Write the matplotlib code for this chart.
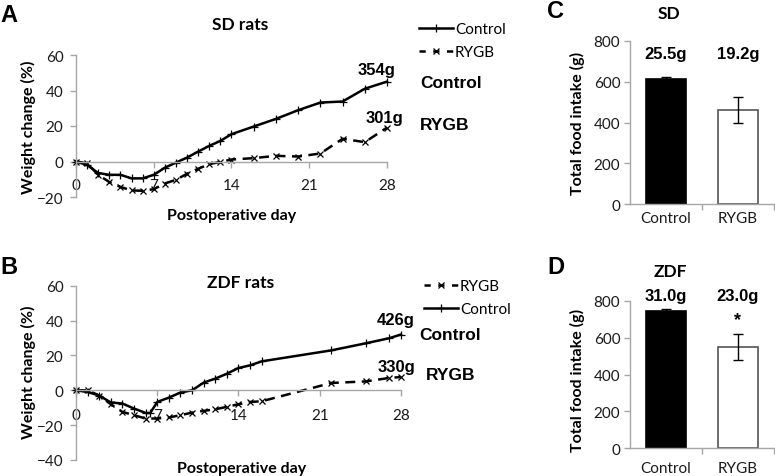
import matplotlib
matplotlib.use("Agg")
import matplotlib.pyplot as plt
from matplotlib.lines import Line2D

# ---------------- data ----------------
sd_days = [0, 1, 2, 3, 4, 5, 6, 7, 8, 9, 10, 11, 12, 13, 14, 16, 18, 20, 22, 24, 26, 28]
sd_control = [0, -2, -6.5, -7.5, -7.5, -9.5, -9.5, -7.5, -3.5, -0.6, 2.2, 5.6, 8.8, 11.6, 15.4,
              19.7, 24, 28.9, 33.2, 33.8, 41, 45]
sd_rygb = [0, -1, -7.5, -11.6, -14.3, -16.3, -16.5, -15.6, -12.4, -10.3, -6.9, -4.1, -1.5, -0.2, 1.1,
           1.9, 3.2, 2.8, 4.5, 12.8, 10.9, 19.1]

zdf_days_control = [0, 1, 2, 3, 4, 5, 6, 6.4, 7, 8, 9, 10, 11, 12, 13, 14, 15, 16, 22, 25, 27, 28]
zdf_control = [0, -1, -3, -7, -7.6, -10.5, -13, -13, -6.7, -4.2, -1.3, 0, 4.4, 6.7, 9.5, 12.8,
               14.3, 16.6, 22.9, 27.0, 29.9, 32]
zdf_days_rygb = [0, 1, 2, 3, 4, 5, 6, 7, 8, 9, 10, 11, 12, 13, 14, 15, 16, 22, 25, 27, 28]
zdf_rygb = [0, 0, -3, -8, -12.4, -14.3, -16.2, -16.2, -15.6, -14.3, -12.8, -11.8, -10.9, -9.5,
            -8, -6.7, -6.3, 4.2, 5.1, 7.1, 7.6]

sd_final_weights = ["354g", "301g"]
zdf_final_weights = ["426g", "330g"]

groups = ["Control", "RYGB"]
sd_intake = [613, 462]
sd_intake_err = [11, 63]
sd_daily = ["25.5g", "19.2g"]
zdf_intake = [745, 552]
zdf_intake_err = [13, 70]
zdf_daily = ["31.0g", "23.0g"]

x_ticks_days = [0, 7, 14, 21, 28]

# ---------------- style ----------------
W, H = 775, 477
fig = plt.figure(figsize=(W / 100, H / 100), dpi=100)
AXC = "#a6a6a6"
TXT = "#1a1a1a"
LAT = ["Lato", "DejaVu Sans"]
ARI = ["Liberation Sans", "DejaVu Sans"]
TICK_FS = 11
LAB_FS = 11.5


def px_axes(x0, x1, ytop, ybot):
    return fig.add_axes([x0 / W, 1 - ybot / H, (x1 - x0) / W, (ybot - ytop) / H])


def ftext(x, y, s, **kw):
    fig.text(x / W, 1 - y / H, s, **kw)


def style_line_axes(ax, ymin, ymax, xpad):
    ax.set_xlim(0, 28)
    ax.set_ylim(ymin, ymax)
    for s in ["top", "right"]:
        ax.spines[s].set_visible(False)
    ax.spines["bottom"].set_position(("data", 0))
    for s in ["left", "bottom"]:
        ax.spines[s].set_color(AXC)
        ax.spines[s].set_linewidth(1.0)
    ax.set_xticks(x_ticks_days)
    ax.set_yticks(range(ymin, ymax + 1, 20))
    ax.tick_params(axis="x", direction="out", length=4, width=1, color=AXC, pad=xpad,
                   labelsize=TICK_FS, labelcolor=TXT)
    ax.tick_params(axis="y", direction="out", length=4, width=1, color=AXC, pad=5,
                   labelsize=TICK_FS, labelcolor=TXT)
    for lab in ax.get_xticklabels() + ax.get_yticklabels():
        lab.set_family(LAT)
    ax.patch.set_alpha(0)


ctrl_kw = dict(color="black", lw=1.8, marker="+", ms=6, mew=0.9, solid_joinstyle="round",
               clip_on=False)
rygb_kw = dict(color="black", lw=1.8, ls=(0, (4, 2.6)), marker="x", ms=4.5, mew=0.9,
               clip_on=False)

hC = Line2D([], [], color="black", lw=1.8, marker="+", ms=6, mew=0.9)
hR = Line2D([], [], color="black", lw=1.8, ls=(0, (2.5, 3)), marker="x", ms=4.5, mew=0.9)

# ---------------- Panel A ----------------
axA = px_axes(76, 387, 56, 198)
style_line_axes(axA, -20, 60, 8)
axA.plot(sd_days, sd_control, **ctrl_kw)
axA.plot(sd_days, sd_rygb, **rygb_kw)
ftext(240, 25, "SD rats", ha="center", va="center", fontsize=12.5, fontweight="bold", family=LAT)
ftext(28, 127, "Weight change (%)", ha="center", va="center", rotation=90, fontsize=LAB_FS,
      fontweight="bold", family=LAT)
ftext(232, 216, "Postoperative day", ha="center", va="center", fontsize=LAB_FS,
      fontweight="bold", family=LAT)
ftext(377, 70, sd_final_weights[0], ha="center", va="center", fontsize=12, fontweight="bold", family=ARI)
ftext(384, 118, sd_final_weights[1], ha="center", va="center", fontsize=12, fontweight="bold", family=ARI)
ftext(420, 83, "Control", ha="left", va="center", fontsize=12.5, fontweight="bold", family=ARI)
ftext(420, 125, "RYGB", ha="left", va="center", fontsize=12.5, fontweight="bold", family=ARI)
fig.legend([hC, hR], ["Control", "RYGB"], loc="upper left",
           bbox_to_anchor=(419 / W, 1 - 23 / H), frameon=False, borderpad=0,
           borderaxespad=0, handlelength=2.2, handletextpad=0.15, labelspacing=0.6,
           prop={"family": LAT, "size": TICK_FS})
ftext(9, 15, "A", ha="center", va="center", fontsize=17, fontweight="bold", family=ARI)

# ---------------- Panel B ----------------
axB = px_axes(76, 401, 286.7, 461)
style_line_axes(axB, -40, 60, 9)
axB.plot(zdf_days_control, zdf_control, **ctrl_kw)
axB.plot(zdf_days_rygb, zdf_rygb, **rygb_kw)
ftext(241, 283, "ZDF rats", ha="center", va="center", fontsize=12.5, fontweight="bold", family=LAT)
ftext(28, 372, "Weight change (%)", ha="center", va="center", rotation=90, fontsize=LAB_FS,
      fontweight="bold", family=LAT)
ftext(242, 469, "Postoperative day", ha="center", va="center", fontsize=LAB_FS,
      fontweight="bold", family=LAT)
ftext(396, 321, zdf_final_weights[0], ha="center", va="center", fontsize=12, fontweight="bold", family=ARI)
ftext(397, 368, zdf_final_weights[1], ha="center", va="center", fontsize=12, fontweight="bold", family=ARI)
ftext(419, 335, "Control", ha="left", va="center", fontsize=12.5, fontweight="bold", family=ARI)
ftext(426, 376, "RYGB", ha="left", va="center", fontsize=12.5, fontweight="bold", family=ARI)
fig.legend([hR, hC], ["RYGB", "Control"], loc="upper left",
           bbox_to_anchor=(424 / W, 1 - 280 / H), frameon=False, borderpad=0,
           borderaxespad=0, handlelength=2.2, handletextpad=0.15, labelspacing=0.58,
           prop={"family": LAT, "size": TICK_FS})
ftext(9, 267, "B", ha="center", va="center", fontsize=17, fontweight="bold", family=ARI)


# ---------------- Bar panels ----------------
def bar_panel(ax, vals, errs, daily, label_y, star=None, xlab_pad=4):
    ax.set_xlim(-0.5, 1.5)
    ax.set_ylim(0, 800)
    xs = list(range(len(groups)))
    ax.bar(xs, vals, width=0.55, color=["black", "white"], edgecolor=["black", "#555555"],
           linewidth=1.2, zorder=2)
    ax.errorbar(xs, vals, yerr=errs, fmt="none", ecolor="black", elinewidth=1.0,
                capsize=3.5, capthick=1.0, zorder=3)
    for s in ["top", "right"]:
        ax.spines[s].set_visible(False)
    for s in ["left", "bottom"]:
        ax.spines[s].set_color(AXC)
        ax.spines[s].set_linewidth(1.0)
    ax.set_yticks(range(0, 801, 200))
    ax.set_xticks(xs)
    ax.set_xticklabels(groups)
    ax.set_xticks([0.5, 1.5], minor=True)
    ax.tick_params(axis="x", which="major", length=0, pad=xlab_pad, labelsize=TICK_FS,
                   labelcolor=TXT)
    ax.tick_params(axis="x", which="minor", length=4, width=1, color=AXC, direction="out")
    ax.tick_params(axis="y", length=4, width=1, color=AXC, pad=3, labelsize=TICK_FS,
                   labelcolor=TXT)
    for lab in ax.get_xticklabels() + ax.get_yticklabels():
        lab.set_family(LAT)
    for x, t in zip(xs, daily):
        ax.text(x, label_y, t, ha="center", va="center", fontsize=12, fontweight="bold",
                family=ARI, clip_on=False)
    if star is not None:
        ax.text(1, star, "*", ha="center", va="center", fontsize=13, fontweight="bold",
                family=ARI, clip_on=False)


axC = px_axes(630, 774, 41.7, 205.3)
bar_panel(axC, sd_intake, sd_intake_err, sd_daily, 735, xlab_pad=5)
ftext(669, 14, "SD", ha="center", va="center", fontsize=12.5, fontweight="bold", family=LAT)
ftext(577, 123, "Total food intake (g)", ha="center", va="center", rotation=90, fontsize=LAB_FS,
      fontweight="bold", family=LAT)
ftext(555, 11, "C", ha="center", va="center", fontsize=17, fontweight="bold", family=ARI)

axD = px_axes(630, 774, 302, 449.3)
bar_panel(axD, zdf_intake, zdf_intake_err, zdf_daily, 829, star=700, xlab_pad=9)
ftext(670, 272, "ZDF", ha="center", va="center", fontsize=12.5, fontweight="bold", family=LAT)
ftext(577, 380, "Total food intake (g)", ha="center", va="center", rotation=90, fontsize=LAB_FS,
      fontweight="bold", family=LAT)
ftext(556, 268, "D", ha="center", va="center", fontsize=17, fontweight="bold", family=ARI)

fig.savefig("out.png", dpi=100)
